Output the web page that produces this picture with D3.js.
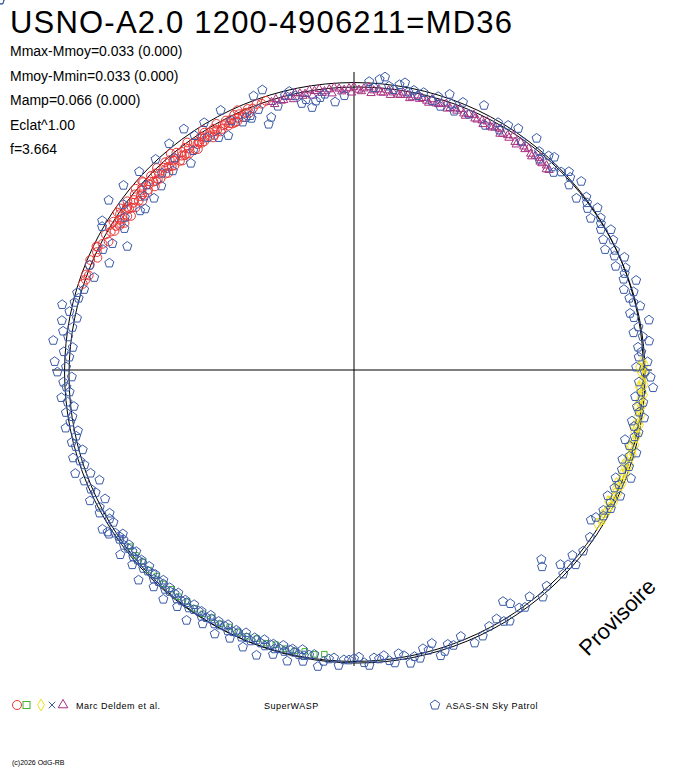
<!DOCTYPE html>
<html><head><meta charset="utf-8">
<script src="https://cdn.jsdelivr.net/npm/d3@7"></script>
<style>body{margin:0;background:#fff}svg{font-family:"Liberation Sans",Arial,sans-serif}</style>
</head><body><svg id="c" width="688" height="768"></svg>
<script>
// phase in degrees clockwise from top, amplitude ratio
const redPhase=[288,289,290,292,293,295,296,297,299,300,301,302,303,304,305,306,307,308,309,310,311,312,313,314,315,316,317,318,319,320,321,322,323,324,325,326,327,328,329,330,331,332,333,334,335,336,337,338,339,340,341,342,290,294,298,302,306,310,314,318,322,326,330,334,338,296,304,312,320,328,336,
300.5,301.5,302.5,303.5,304.5,305.5,306.5,307.5,308.5,309.5,310.5,311.5,312.5,313.5,314.5,315.5,316.5,317.5,318.5,319.5,320.5,321.5,322.5,323.5,324.5,325.5,326.5,327.5,328.5,329.5,330.5,331.5,332.5,333.5,334.5,335.5,336.5,337.5,
303,305,307,309,311,313,315,317,319,321,323,325,327,329,331,333,335];
const redR=[0.99,0.985,0.99,0.99,0.995,0.985,0.99,0.98,0.985,0.975,0.99,0.985,0.97,0.98,0.99,0.975,0.985,0.97,0.98,0.99,0.975,0.985,0.97,0.98,0.975,0.985,0.97,0.98,0.975,0.965,0.98,0.97,0.975,0.985,0.97,0.965,0.975,0.98,0.97,0.975,0.985,0.97,0.98,0.975,0.985,0.98,0.975,0.985,0.98,0.99,0.985,0.99,0.98,0.975,0.965,0.96,0.965,0.96,0.955,0.96,0.955,0.96,0.965,0.96,0.97,0.995,0.99,0.99,0.99,0.99,0.995,
0.965,0.97,0.96,0.965,0.955,0.97,0.96,0.965,0.955,0.96,0.97,0.955,0.965,0.96,0.955,0.965,0.95,0.96,0.955,0.965,0.95,0.96,0.955,0.965,0.95,0.96,0.955,0.965,0.96,0.955,0.965,0.96,0.97,0.965,0.96,0.97,0.965,0.975,
0.95,0.945,0.95,0.945,0.95,0.945,0.95,0.945,0.95,0.945,0.95,0.945,0.955,0.95,0.955,0.96,0.96];
const magPhase=[343,344,345,346,347,348,349,350,351,352,353,354,355,356,357,358,359,0,1,2,3,4,5,6,7,8,9,10,11,12,13,14,15,16,17,18,19,20,21,22,23,24,25,26,27,28,29,30,31,32,33,34,35,36,37,38,39,40,41,42,43,44,
343.5,345.5,347.5,349.5,351.5,353.5,355.5,357.5,359.5,1.5,3.5,5.5,7.5,9.5,11.5,13.5,15.5,17.5,19.5,21.5,23.5,25.5,27.5,29.5,31.5,33.5,35.5,37.5,39.5,41.5,43.5];
const magR=[0.98,0.985,0.975,0.985,0.98,0.99,0.985,0.98,0.99,0.985,0.99,0.98,0.985,0.99,0.985,0.98,0.985,0.99,0.98,0.985,0.99,0.98,0.985,0.975,0.985,0.98,0.975,0.985,0.98,0.975,0.985,0.98,0.975,0.985,0.975,0.98,0.985,0.975,0.98,0.985,0.975,0.98,0.985,0.975,0.98,0.985,0.975,0.98,0.985,0.975,0.98,0.99,0.975,0.985,0.98,0.985,0.975,0.98,0.985,0.975,0.98,0.975,
0.97,0.975,0.97,0.975,0.97,0.975,0.97,0.975,0.97,0.975,0.97,0.975,0.97,0.975,0.97,0.975,0.97,0.975,0.97,0.975,0.97,0.975,0.97,0.975,0.97,0.975,0.97,0.975,0.97,0.975,0.97];
const yelPhase=[88,89,90,91,92,93,94,95,96,97,98,99,100,101,102,103,104,105,106,107,108,109,110,111,112,113,114,115,116,117,118,119,120,121,122,89,93,97,101,105,109,113,117,88.5,90.5,92.5,94.5,96.5,98.5,100.5,102.5,104.5,106.5,108.5,110.5,112.5,114.5,116.5,118.5,120.5];
const yelR=[1.0,1.005,0.995,1.005,1.0,0.995,1.005,1.0,0.995,1.005,1.0,0.995,1.005,1.0,0.995,1.005,1.0,0.995,1.005,1.0,0.995,1.0,1.005,0.995,1.0,1.005,0.995,1.0,1.0,0.995,1.005,1.0,0.995,1.0,0.995,0.99,0.99,0.99,0.99,0.99,0.99,0.99,0.99,1.01,1.01,1.01,1.01,1.01,1.01,1.01,1.01,1.01,1.01,1.01,1.01,1.01,1.01,1.01,1.005,1.005];
const grnPhase=[186,188,190,192,194,196,198,200,202,204,206,208,210,212,214,216,218,220,222,224,226,228,230,232];
const grnR=[0.985,0.99,0.985,0.99,0.99,0.985,0.99,0.985,0.99,0.99,0.985,0.99,0.985,0.99,0.99,0.985,0.99,0.985,0.99,0.985,0.99,0.985,0.99,0.985];
const bluePhase=[
3,5,7,8,9,10,11,12,13,14,6,4,-2,-4,-6,-8,-9,-10,-11,-12,-14,-16,-18,-20,-22,-7,-13,
16,17,18,19,20,21,22,24,26,28,30,31,32,34,36,38,40,41,42,43,44,45,46,47,48,49,50,
52,53,54,55,56,57,58,59,60,61,62,63,64,65,66,67,68,69,70,71,72,73,74,75,76,77,78,79,80,81,82,83,84,85,86,87,
88,89,90,91,92,93,94,95,96,97,98,99,100,101,102,103,104,105,106,107,108,109,110,111,112,113,114,115,116,117,118,119,120,121,122,
125,128,130,131,132,133,134,135,136,138,140,142,144,145,146,147,148,149,150,152,154,156,158,160,161,162,163,164,165,166,167,168,169,170,171,172,173,174,175,176,177,178,179,180,181,182,183,184,185,186,187,188,189,
190,191,192,193,194,195,196,197,198,199,200,201,202,203,204,205,206,207,208,209,210,211,212,213,214,215,216,217,218,219,220,221,222,223,224,225,226,227,228,229,230,231,232,233,234,235,236,237,238,
190,193,196,199,202,205,208,211,214,217,220,223,226,229,232,235,238,
190.5,192.5,194.5,196.5,198.5,200.5,202.5,204.5,206.5,208.5,210.5,212.5,214.5,216.5,218.5,220.5,222.5,224.5,226.5,228.5,230.5,232.5,234.5,236.5,
239,240,241,242,243,244,245,246,247,248,249,250,251,252,253,254,255,256,257,258,259,260,261,262,263,264,265,266,267,268,269,270,271,272,273,274,275,276,277,278,279,280,281,282,283,284,285,286,287,
290,292,294,296,298,300,302,304,306,308,310,312,314,316,318,320,322,324,326,328,330,332,334,336,338,340,342,
301,305,309,313,317,321,325,329,333,337,341,299,307,311,319,327];
const blueR=[
1.01,1.02,1.0,0.99,1.01,1.02,0.99,1.0,0.985,1.0,1.03,0.99,0.96,0.94,0.97,0.95,0.93,0.96,0.95,0.98,0.99,0.96,0.93,0.97,0.95,0.96,1.0,
0.98,1.0,0.97,1.02,0.99,0.97,1.01,0.98,1.03,0.97,1.0,0.98,1.01,1.02,0.99,1.03,1.0,0.98,1.01,1.02,0.99,0.98,1.0,1.02,1.01,0.99,1.03,
0.98,1.01,1.0,0.99,1.02,0.98,1.01,1.0,0.99,1.02,0.98,1.01,0.97,1.0,0.99,1.02,0.98,1.01,1.0,0.99,1.03,0.98,1.01,0.99,1.0,1.02,0.98,0.99,1.04,1.0,0.98,1.01,1.03,0.99,
1.0,0.99,1.02,0.98,1.01,1.03,0.99,1.04,1.0,0.98,1.01,0.99,1.0,1.02,0.98,0.99,1.01,1.0,0.97,0.99,1.02,1.0,0.98,1.01,0.99,1.03,0.98,1.0,0.99,1.02,0.98,1.0,1.01,0.99,1.0,
0.98,0.97,1.0,1.01,0.99,1.02,1.0,0.98,1.01,0.92,0.94,1.0,1.02,0.99,1.01,1.0,0.97,0.95,1.02,1.01,0.99,1.0,1.02,1.03,0.99,1.01,1.0,1.02,1.03,0.98,1.0,0.99,1.02,1.01,1.03,1.0,0.99,1.02,1.01,0.99,1.0,0.995,1.02,1.01,0.99,0.995,1.0,1.0,1.02,0.995,1.0,1.01,1.03,
0.99,0.995,1.0,1.0,0.995,0.99,1.0,0.995,1.0,0.99,1.0,0.995,0.99,1.0,0.995,1.0,0.99,0.995,1.0,0.99,0.995,1.0,0.99,0.995,1.0,0.99,0.995,1.0,0.99,0.995,1.0,0.99,0.995,1.0,0.99,0.995,1.0,0.99,0.995,1.0,0.99,0.995,1.0,0.99,0.995,1.0,0.99,0.995,1.0,
1.02,1.03,1.02,1.03,1.02,1.04,1.03,1.02,1.03,1.02,1.04,1.02,1.03,1.02,1.04,1.02,1.03,
0.98,0.985,0.98,0.985,0.98,0.985,0.98,0.985,0.98,0.985,0.98,0.985,0.98,0.985,0.98,0.985,0.98,0.985,0.98,0.985,0.98,0.985,0.98,0.985,
1.0,1.02,0.99,0.98,1.01,1.0,0.97,1.02,0.99,1.0,0.96,1.01,0.98,1.03,0.99,1.0,1.02,0.98,1.0,1.01,0.99,0.98,1.02,1.0,0.99,1.01,0.98,1.0,1.02,0.99,1.0,1.01,0.98,1.03,1.0,1.04,0.99,1.01,0.98,1.05,1.0,1.02,0.99,1.03,0.98,1.01,1.04,1.0,0.99,
1.0,0.98,0.96,0.99,0.93,0.97,0.95,1.01,0.94,0.96,0.99,0.92,0.95,0.97,0.93,0.96,0.94,0.97,0.92,0.95,0.99,0.96,0.94,0.93,0.97,0.95,0.96,
1.02,1.03,1.02,1.04,1.03,1.02,1.01,1.02,1.03,1.01,1.02,0.96,0.91,0.9,0.93,0.92];
const statLines=["Mmax-Mmoy=0.033 (0.000)","Mmoy-Mmin=0.033 (0.000)","Mamp=0.066 (0.000)","Eclat^1.00","f=3.664"];

const svg=d3.select("#c");
const cx=354,cy=372;
const rs=d3.scaleLinear().domain([0,1]).range([0,288]);
const ang=d3.scaleLinear().domain([0,360]).range([0,2*Math.PI]);
const px=(p,r)=>cx+rs(r)*Math.sin(ang(p));
const py=(p,r)=>cy-rs(r)*Math.cos(ang(p));

svg.append("line").attr("x1",cx).attr("x2",cx).attr("y1",72).attr("y2",666).attr("stroke","#000");
svg.append("line").attr("x1",52).attr("x2",652).attr("y1",370).attr("y2",370).attr("stroke","#000");
svg.append("circle").attr("cx",cx).attr("cy",cy).attr("r",rs(1.005)).attr("fill","none").attr("stroke","#000");
svg.append("ellipse").attr("cx",cx+3).attr("cy",cy+3).attr("rx",rs(1.0)).attr("ry",rs(1.0)).attr("fill","none").attr("stroke","#000");

function plot(P,R,sym,size,col){
  const g=svg.append("g");
  P.forEach((p,i)=>g.append("path").attr("d",d3.symbol().type(sym).size(size)())
    .attr("transform",`translate(${px(p,R[i])},${py(p,R[i])})`)
    .attr("fill","none").attr("stroke",col).attr("stroke-width",1));
}
const pentagon={draw(ctx,size){const r=Math.sqrt(size/2.4);for(let k=0;k<5;k++){const a=-Math.PI/2+k*2*Math.PI/5;k?ctx.lineTo(r*Math.cos(a),r*Math.sin(a)):ctx.moveTo(r*Math.cos(a),r*Math.sin(a));}ctx.closePath();}};
plot(grnPhase,grnR,d3.symbolSquare,30,"#44b030");
plot(yelPhase,yelR,d3.symbolDiamond,40,"#f0e020");
plot(redPhase,redR,d3.symbolCircle,60,"#e83535");
plot(magPhase,magR,d3.symbolTriangle,30,"#a83080");
plot(bluePhase,blueR,pentagon,55,"#3a5aa8");

svg.append("text").attr("x",10).attr("y",33).attr("font-size",31).attr("letter-spacing","1.2").text("USNO-A2.0 1200-4906211=MD36");
statLines.forEach((t,i)=>svg.append("text").attr("x",10).attr("y",56+i*24.5).attr("font-size",14).text(t));
svg.append("text").attr("transform","translate(588,657) rotate(-45)").attr("font-size",22).text("Provisoire");

// legend
const ly=705;
svg.append("circle").attr("cx",17).attr("cy",ly).attr("r",4.5).attr("fill","none").attr("stroke","#e83535");
svg.append("rect").attr("x",23).attr("y",ly-3.5).attr("width",7).attr("height",7).attr("fill","none").attr("stroke","#44b030");
svg.append("path").attr("d",d3.symbol().type(d3.symbolDiamond).size(40)()).attr("transform",`translate(41,${ly})`).attr("fill","none").attr("stroke","#f0e020");
svg.append("path").attr("d",d3.symbol().type(d3.symbolX).size(30)()).attr("transform",`translate(52,${ly})`).attr("fill","none").attr("stroke","#3a5aa8");
svg.append("path").attr("d",d3.symbol().type(d3.symbolTriangle).size(40)()).attr("transform",`translate(63,${ly})`).attr("fill","none").attr("stroke","#a83080");
svg.append("text").attr("x",76).attr("y",ly+4).attr("font-size",9).attr("letter-spacing","0.5").text("Marc Deldem et al.");
svg.append("text").attr("x",264).attr("y",ly+4).attr("font-size",9).attr("letter-spacing","0.5").text("SuperWASP");
svg.append("path").attr("d",d3.symbol().type(pentagon).size(60)()).attr("transform",`translate(435,${ly})`).attr("fill","none").attr("stroke","#3a5aa8");
svg.append("text").attr("x",446).attr("y",ly+4).attr("font-size",9).attr("letter-spacing","0.5").text("ASAS-SN Sky Patrol");
svg.append("text").attr("x",12).attr("y",765).attr("font-size",7).text("(c)2026 OdG-RB");
</script></body></html>
